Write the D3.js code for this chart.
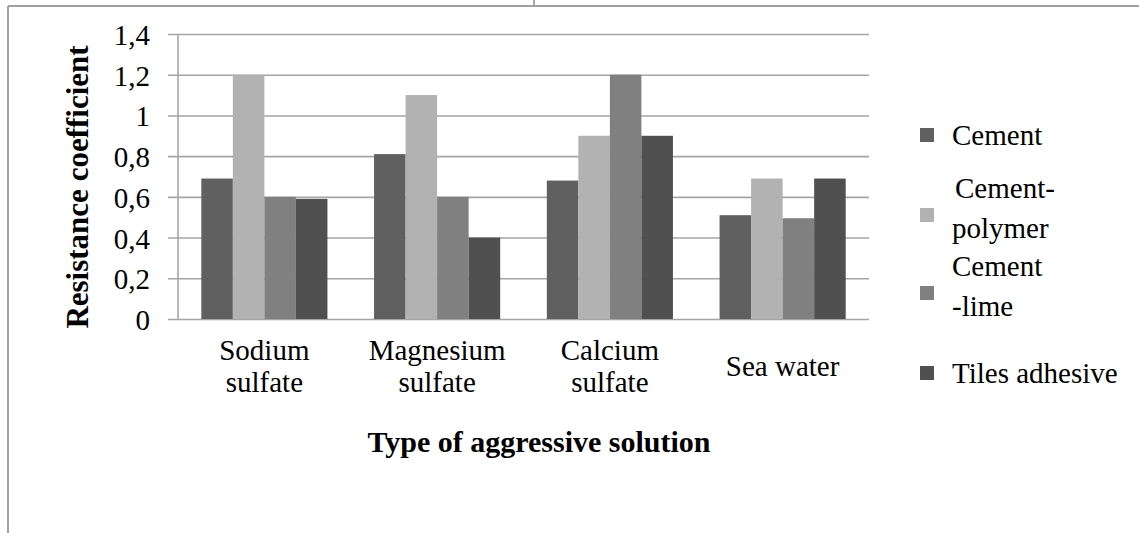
<!DOCTYPE html>
<html>
<head>
<meta charset="utf-8">
<script src="https://cdn.jsdelivr.net/npm/d3@7"></script>
<style>
    body { margin: 0; background: #fff; }
    svg text, svg tspan { font-family: "Liberation Serif", "Times New Roman", "DejaVu Serif", serif; fill: #000; }
</style>
</head>
<body>
<div id="chart"></div>
<script>
// data
var categories = [["Sodium", "sulfate"], ["Magnesium", "sulfate"], ["Calcium", "sulfate"], ["Sea water"]];
var seriesNames = [["Cement"], ["Cement-", "polymer"], ["Cement", "-lime"], ["Tiles adhesive"]];
var cement = [0.69, 0.81, 0.68, 0.51];
var cementPolymer = [1.2, 1.1, 0.9, 0.69];
var cementLime = [0.6, 0.6, 1.2, 0.495];
var tilesAdhesive = [0.59, 0.4, 0.9, 0.69];
var yTicks = [0, 0.2, 0.4, 0.6, 0.8, 1, 1.2, 1.4];

var colors = ["#606060", "#b2b2b2", "#808080", "#505050"];
var series = [cement, cementPolymer, cementLime, tilesAdhesive];

var W = 1139, H = 533;
var margin = { top: 34, left: 178, right: 270, bottom: 214 };
var width = W - margin.left - margin.right;
var height = H - margin.top - margin.bottom;

var svg = d3.select("#chart").append("svg")
    .attr("width", W)
    .attr("height", H);

// outer frame (only top and left edges are visible)
svg.append("line").attr("x1", 8).attr("x2", W).attr("y1", 6).attr("y2", 6)
    .attr("stroke", "#a0a0a0").attr("stroke-width", 2);
svg.append("line").attr("x1", 8).attr("x2", 8).attr("y1", 6).attr("y2", H)
    .attr("stroke", "#a0a0a0").attr("stroke-width", 2);
svg.append("line").attr("x1", 534).attr("x2", 534).attr("y1", 0).attr("y2", 5)
    .attr("stroke", "#555").attr("stroke-width", 1);

var g = svg.append("g")
    .attr("transform", "translate(" + margin.left + "," + margin.top + ")");

//scales
var x0 = d3.scaleBand()
    .domain(d3.range(categories.length))
    .range([0, width])
    .paddingInner(0.27)
    .paddingOuter(0.135);

var x1 = d3.scaleBand()
    .domain(d3.range(series.length))
    .range([0, x0.bandwidth()]);

var y = d3.scaleLinear()
    .domain([0, 1.4])
    .range([height, 0]);

// gridlines + ticks
var yAxis = g.append("g")
    .call(d3.axisLeft(y).tickValues(yTicks).tickSize(-width).tickFormat(""));
yAxis.select(".domain").remove();
yAxis.selectAll("line")
    .attr("x1", -10)
    .attr("x2", width)
    .attr("stroke", "#a5a5a5")
    .attr("stroke-width", 1.6);

g.selectAll(".ylab")
    .data(yTicks)
    .enter()
    .append("text")
    .attr("class", "ylab")
    .attr("x", -28)
    .attr("y", d => y(d) + 11)
    .attr("text-anchor", "end")
    .style("font-size", "29px")
    .text(d => String(d).replace(".", ","));

// y axis line
g.append("line")
    .attr("x1", 0).attr("x2", 0)
    .attr("y1", 0).attr("y2", height)
    .attr("stroke", "#a5a5a5")
    .attr("stroke-width", 1.6);

// bars
var groups = g.selectAll(".grp")
    .data(categories)
    .enter()
    .append("g")
    .attr("transform", (d, i) => "translate(" + x0(i) + ",0)");

groups.selectAll("rect")
    .data((d, i) => series.map((s, j) => ({ j: j, v: s[i] })))
    .enter()
    .append("rect")
    .attr("x", d => x1(d.j))
    .attr("y", d => y(d.v))
    .attr("width", x1.bandwidth())
    .attr("height", d => height - y(d.v))
    .attr("fill", d => colors[d.j]);

// category labels
groups.append("text")
    .attr("x", x0.bandwidth() / 2)
    .attr("y", d => d.length == 2 ? height + 41 : height + 57)
    .attr("text-anchor", "middle")
    .style("font-size", "29px")
    .selectAll("tspan")
    .data(d => d)
    .enter()
    .append("tspan")
    .attr("x", x0.bandwidth() / 2)
    .attr("dy", (d, i) => i == 0 ? 0 : 32)
    .text(d => d);

// axis titles
svg.append("text")
    .attr("x", 539)
    .attr("y", 452)
    .attr("text-anchor", "middle")
    .style("font-size", "30px")
    .style("font-weight", "bold")
    .text("Type of aggressive solution");

svg.append("text")
    .attr("transform", "translate(88," + 187 + ") rotate(-90)")
    .attr("text-anchor", "middle")
    .style("font-size", "31px")
    .style("font-weight", "bold")
    .text("Resistance coefficient");

// legend
var legendY = [135, 215, 293, 373];
var legend = svg.selectAll(".leg")
    .data(seriesNames)
    .enter()
    .append("g")
    .attr("transform", (d, i) => "translate(920," + legendY[i] + ")");

legend.append("rect")
    .attr("x", 0)
    .attr("y", -7)
    .attr("width", 14)
    .attr("height", 14)
    .attr("fill", (d, i) => colors[i]);

legend.append("text")
    .attr("y", d => d.length == 2 ? -17 : 10)
    .style("font-size", "29px")
    .selectAll("tspan")
    .data(d => d)
    .enter()
    .append("tspan")
    .attr("x", (d, i) => d == "Cement-" ? 35 : 32)
    .attr("dy", (d, i) => i == 0 ? 0 : 40)
    .text(d => d);
</script>
</body>
</html>
